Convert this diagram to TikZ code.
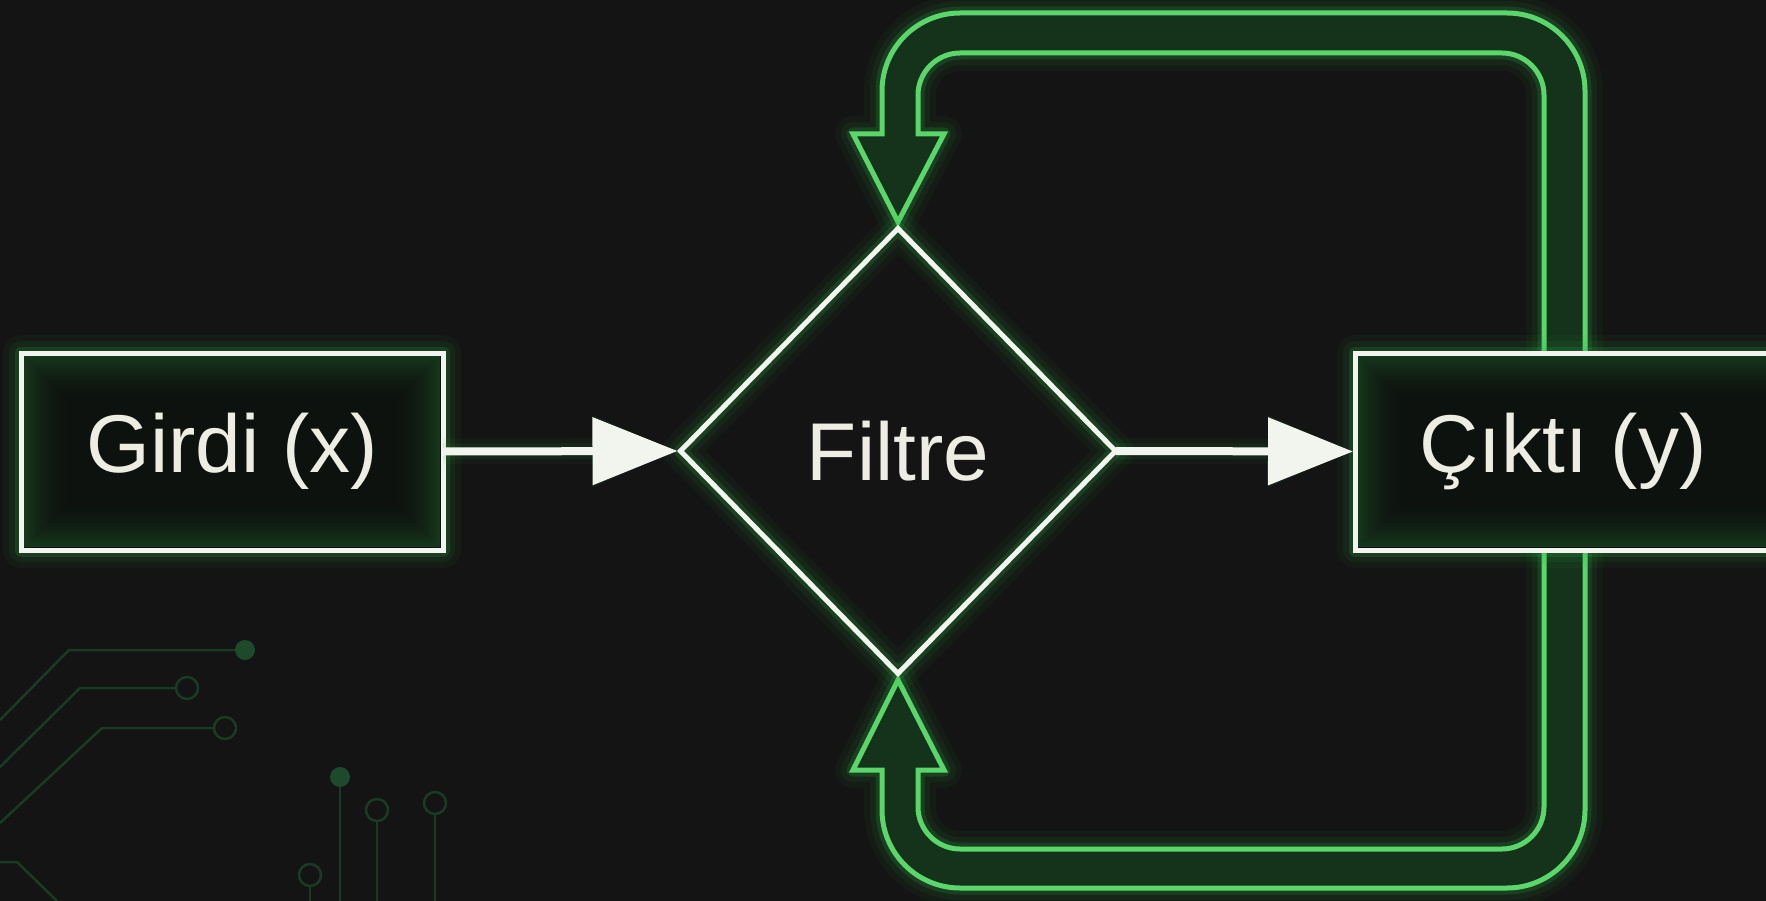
\documentclass[tikz,border=0pt]{standalone}
\usepackage{fontspec}
\setmainfont{Liberation Sans}
\usetikzlibrary{shapes.geometric,arrows.meta}
\definecolor{bg}{HTML}{131413}
\definecolor{neon}{HTML}{5AD66A}
\definecolor{glowc}{HTML}{2FB34A}
\definecolor{band}{HTML}{15321B}
\definecolor{trace}{HTML}{1A3B23}
\definecolor{tracedot}{HTML}{1C4A2A}
\definecolor{wline}{HTML}{F2F5EE}
\definecolor{txt}{HTML}{EDEDE3}
\definecolor{boxfill}{HTML}{0E120F}
\tikzset{
  glow/.style={
    preaction={draw=glowc,line width=36pt,draw opacity=0.05,line join=round},
    preaction={draw=glowc,line width=24pt,draw opacity=0.08,line join=round},
    preaction={draw=glowc,line width=13pt,draw opacity=0.18,line join=round}},
  softglow/.style={
    preaction={draw=glowc,line width=26pt,draw opacity=0.05,line join=round},
    preaction={draw=glowc,line width=16pt,draw opacity=0.08,line join=round}},
  boxnode/.style={rectangle, draw=wline, line width=5pt, fill=boxfill, text=txt,
    font=\fontsize{82}{98}\selectfont, inner sep=0pt, outer sep=0pt,
    minimum height=197pt, glow},
  filtrenode/.style={diamond, draw=wline, line width=5pt, text=txt,
    font=\fontsize{82}{98}\selectfont, inner sep=0pt, outer sep=0pt,
    minimum width=435pt, minimum height=445pt, glow},
  flowarrow/.style={draw=wline, fill=wline, line width=8pt,
    -{Triangle[length=85pt,width=66pt]}},
  loopline/.style={draw=neon, line width=5pt, fill=band, line join=miter, glow},
  tracel/.style={draw=trace, line width=2.5pt},
  innerglow/.style={draw=glowc, line width=#1}
}
\begin{document}
\begin{tikzpicture}[x=1pt,y=-1pt]
\useasboundingbox (0,0) rectangle (1766,901);
\fill[bg] (0,0) rectangle (1766,901);

% circuit traces
\draw[tracel] (0,720) -- (69,650) -- (235,650);
\fill[tracedot] (245,650) circle[radius=10];
\draw[tracel] (0,767) -- (80,688) -- (176,688);
\draw[tracel] (187,688) circle[radius=11];
\draw[tracel] (0,823) -- (102,728) -- (214,728);
\draw[tracel] (225,728) circle[radius=11];
\draw[tracel] (0,862) -- (17,862) -- (57,901);
\fill[tracedot] (340,777) circle[radius=10];
\draw[tracel] (340,787) -- (340,901);
\draw[tracel] (377,810) circle[radius=11];
\draw[tracel] (377,821) -- (377,901);
\draw[tracel] (435,803) circle[radius=11];
\draw[tracel] (435,814) -- (435,901);
\draw[tracel] (310,875) circle[radius=11];
\draw[tracel] (310,886) -- (310,901);

% feedback loop (hollow double-line arrow)
\path[loopline] (853,134) -- (882,134) -- (882,91)
  .. controls (882,48) and (917,13) .. (960,13) -- (1507,13)
  .. controls (1550,13) and (1585,48) .. (1585,91) -- (1585,810)
  .. controls (1585,853) and (1550,888) .. (1507,888) -- (960,888)
  .. controls (917,888) and (882,853) .. (882,810) -- (882,770)
  -- (853,770) -- (898,680) -- (944,770) -- (918,770) -- (918,807)
  .. controls (918,830) and (937,849) .. (960,849) -- (1502,849)
  .. controls (1525,849) and (1544,830) .. (1544,807) -- (1544,95)
  .. controls (1544,72) and (1525,53) .. (1502,53) -- (960,53)
  .. controls (937,53) and (918,72) .. (918,95) -- (918,134)
  -- (944,134) -- (898,222) -- cycle;

% nodes
\node[boxnode, minimum width=422pt] (girdi) at (232,451.5) {};
\node[boxnode, minimum width=416pt] (cikti) at (1563,451.5) {};
\node[filtrenode] (filtre) at (898,451) {Filtre};

% smooth inner glow of the boxes
\foreach \d in {4,6,...,50}{
  \pgfmathsetmacro{\op}{0.24*(1-(\d-4)/48)^2}
  \draw[innerglow=2.4pt, draw opacity=\op]
    (21+\d,353+\d) rectangle (443-\d,550-\d);
  \draw[innerglow=2.4pt, draw opacity=\op]
    (1355+\d,353+\d) rectangle (1790,550-\d);
}
\node[text=txt, font=\fontsize{82}{98}\selectfont] (girditext) at (girdi) {Girdi (x)};
\node[text=txt, font=\fontsize{82}{98}\selectfont] (ciktitext) at (cikti) {Çıktı (y)};

% flow arrows
\draw[flowarrow, softglow] (girdi.east) -- ([xshift=-3pt]filtre.west);
\draw[flowarrow, softglow] (filtre.east) -- ([xshift=-2pt]cikti.west);
\end{tikzpicture}
\end{document}
